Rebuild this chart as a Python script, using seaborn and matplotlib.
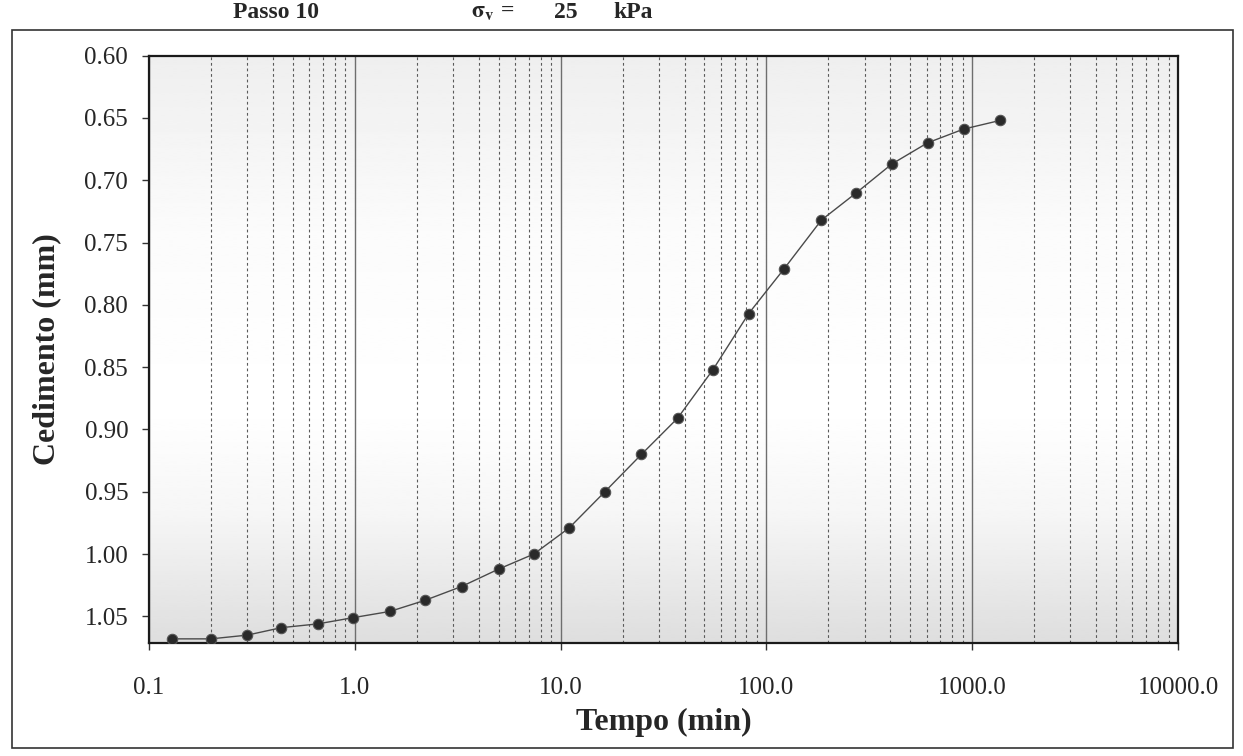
import numpy as np
import pandas as pd
import matplotlib
matplotlib.use("Agg")
import matplotlib.pyplot as plt
import seaborn as sns
from matplotlib.ticker import FixedLocator, LogLocator, NullFormatter, FixedFormatter
from matplotlib.patches import Rectangle

# ---- data ----
tempo_min = [0.13, 0.20, 0.30, 0.44, 0.66, 0.98, 1.48, 2.2, 3.3, 5.0, 7.4, 11.0,
             16.4, 24.7, 37.0, 55.0, 82.0, 122.0, 185.0, 274.0, 407.0, 607.0, 908.0, 1370.0]
cedimento_mm = [1.068, 1.068, 1.065, 1.059, 1.056, 1.051, 1.046, 1.037, 1.026, 1.012, 1.000, 0.979,
                0.950, 0.920, 0.891, 0.852, 0.807, 0.771, 0.732, 0.710, 0.687, 0.670, 0.659, 0.652]
x_ticks = [0.1, 1.0, 10.0, 100.0, 1000.0, 10000.0]
x_tick_labels = ["0.1", "1.0", "10.0", "100.0", "1000.0", "10000.0"]
y_ticks = [0.60, 0.65, 0.70, 0.75, 0.80, 0.85, 0.90, 0.95, 1.00, 1.05]
y_tick_labels = ["0.60", "0.65", "0.70", "0.75", "0.80", "0.85", "0.90", "0.95", "1.00", "1.05"]
passo_label = "Passo 10"
sigma_value = "25"
sigma_unit = "kPa"

df = pd.DataFrame({"Tempo": tempo_min, "Cedimento": cedimento_mm})

sns.set_theme(style="white")
plt.rcParams["font.family"] = ["Liberation Serif", "DejaVu Serif"]
plt.rcParams["mathtext.fontset"] = "stix"

fig = plt.figure(figsize=(12.43, 7.56), dpi=100)
fig.patch.set_facecolor("white")
ax = fig.add_axes([0.1199, 0.150, 0.8278, 0.7765])

# background gradient of the plot area
grad_pos = [0.0, 0.22, 0.40, 0.70, 1.0]
grad_val = [0.87, 0.965, 1.0, 0.985, 0.935]
yy = np.linspace(0, 1, 256)
g = np.interp(yy, grad_pos, grad_val).reshape(-1, 1)
ax.imshow(g, cmap="gray", vmin=0, vmax=1, aspect="auto", extent=[0, 1, 1, 0],
          transform=ax.transAxes, zorder=0, interpolation="bilinear")

sns.lineplot(data=df, x="Tempo", y="Cedimento", ax=ax, color="#4a4a4a", linewidth=1.0,
             marker="o", markersize=7.5, markerfacecolor="#2a2a2a",
             markeredgecolor="#555555", markeredgewidth=0.8, zorder=5, sort=False)

ax.set_xscale("log")
ax.set_xlim(0.1, 10000)
ax.set_ylim(1.071, 0.60)

ax.xaxis.set_major_locator(FixedLocator(x_ticks))
ax.xaxis.set_major_formatter(FixedFormatter(x_tick_labels))
ax.xaxis.set_minor_locator(LogLocator(base=10, subs=np.arange(2, 10)))
ax.xaxis.set_minor_formatter(NullFormatter())
ax.yaxis.set_major_locator(FixedLocator(y_ticks))
ax.yaxis.set_major_formatter(FixedFormatter(y_tick_labels))

ax.grid(False)
ax.grid(True, which="major", axis="x", color="#6e6e6e", linewidth=1.0, linestyle="-", zorder=1)
ax.grid(True, which="minor", axis="x", color="#5a5a5a", linewidth=0.8, linestyle=(0, (2.5, 2.5)), zorder=1)

ax.tick_params(axis="x", which="major", direction="out", length=5, width=1, color="#333333",
               pad=20, labelsize=18, bottom=True)
ax.tick_params(axis="x", which="minor", length=0)
ax.tick_params(axis="y", which="major", direction="out", length=5, width=1, color="#333333",
               pad=10, labelsize=18, left=True)

for sp in ax.spines.values():
    sp.set_visible(True)
    sp.set_color("#1a1a1a")
    sp.set_linewidth(1.6)

ax.set_xlabel("Tempo (min)", fontsize=23, fontweight="bold")
ax.set_ylabel("Cedimento (mm)", fontsize=23, fontweight="bold")
ax.xaxis.set_label_coords(0.5, -0.112)
ax.yaxis.set_label_coords(-0.085, 0.5)

# outer chart frame
fig.patches.append(Rectangle((0.0097, 0.0106), 0.9823, 0.9494, transform=fig.transFigure,
                             fill=False, edgecolor="#333333", linewidth=1.2))

# header
fig.text(0.222, 0.983, passo_label, fontsize=17, fontweight="bold", ha="center", va="center")
fig.text(0.396, 0.983, r"$\mathbf{\sigma}_{\mathbf{v}}$ =", fontsize=17, fontweight="bold", ha="center", va="center")
fig.text(0.455, 0.983, sigma_value, fontsize=17, fontweight="bold", ha="center", va="center")
fig.text(0.509, 0.983, sigma_unit, fontsize=17, fontweight="bold", ha="center", va="center")

fig.savefig("out.png", dpi=100, facecolor="white")
